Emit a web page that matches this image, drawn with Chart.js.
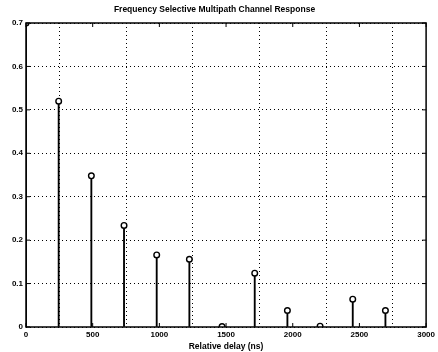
<!DOCTYPE html>
<html><head><meta charset="utf-8">
<script src="https://cdn.jsdelivr.net/npm/chart.js@4/dist/chart.umd.min.js"></script>
<style>html,body{margin:0;padding:0;background:#fff}#wrap{width:438px;height:352px}</style>
</head><body><div id="wrap"><canvas id="c" width="438" height="352"></canvas></div>
<script>
const delays = [0, 245, 490, 735, 980, 1225, 1470, 1715, 1960, 2205, 2450, 2695];
const gains = [0.7, 0.52, 0.348, 0.234, 0.166, 0.156, 0.001, 0.124, 0.038, 0.002, 0.064, 0.038];
const xTicks = [0, 500, 1000, 1500, 2000, 2500, 3000];
const yTicks = [0, 0.1, 0.2, 0.3, 0.4, 0.5, 0.6, 0.7];
const titleText = 'Frequency Selective Multipath Channel Response';
const xLabel = 'Relative delay (ns)';

const pts = delays.map((d, i) => ({x: d, y: gains[i]}));
const FONT = 'Liberation Sans';

const frame = {
  id: 'frame',
  afterDraw(chart) {
    const {ctx, chartArea: a, scales: {x, y}} = chart;
    ctx.save();
    ctx.strokeStyle = '#000';
    ctx.lineWidth = 1.5;
    ctx.strokeRect(a.left, a.top, a.right - a.left, a.bottom - a.top);
    ctx.lineWidth = 1;
    ctx.beginPath();
    xTicks.forEach(t => {
      const px = x.getPixelForValue(t);
      ctx.moveTo(px, a.bottom); ctx.lineTo(px, a.bottom - 4);
      ctx.moveTo(px, a.top); ctx.lineTo(px, a.top + 4);
    });
    yTicks.forEach(t => {
      const py = y.getPixelForValue(t);
      ctx.moveTo(a.left, py); ctx.lineTo(a.left + 4, py);
      ctx.moveTo(a.right, py); ctx.lineTo(a.right - 4, py);
    });
    ctx.stroke();
    ctx.restore();
  }
};

new Chart(document.getElementById('c'), {
  data: {
    datasets: [
      {type: 'scatter', data: pts, pointRadius: 2.8, pointBorderWidth: 1.4,
       pointBorderColor: '#000', pointBackgroundColor: '#fff', order: 0},
      {type: 'bar', data: pts, backgroundColor: '#000', barThickness: 1.2, order: 1}
    ]
  },
  options: {
    responsive: false, animation: false,
    layout: {padding: {left: 0, right: 9, top: 0, bottom: 0}},
    plugins: {
      legend: {display: false}, tooltip: {enabled: false},
      title: {display: true, text: titleText, color: '#000',
        font: {family: FONT, size: 8.5, weight: 'bold'}, padding: {top: 5, bottom: 7.8}}
    },
    scales: {
      x: {type: 'linear', min: 0, max: 3000, offset: false,
        afterBuildTicks: s => { s.ticks = xTicks.map(v => ({value: v})); },
        afterFit: s => { s.height = 25; },
        grid: {color: '#000', lineWidth: 1, drawTicks: false},
        border: {display: false, dash: [1, 3]},
        ticks: {color: '#000', padding: 3, maxRotation: 0, font: {family: FONT, size: 8, weight: 'bold'},
          callback: v => String(v)},
        title: {display: true, text: xLabel, color: '#000', padding: {top: 0, bottom: 0},
          font: {family: FONT, size: 8.5, weight: 'bold'}}
      },
      y: {type: 'linear', min: 0, max: 0.7,
        afterBuildTicks: s => { s.ticks = yTicks.map(v => ({value: v})); },
        afterFit: s => { s.width = 26; },
        grid: {color: '#000', lineWidth: 1, drawTicks: false},
        border: {display: false, dash: [1, 3]},
        ticks: {color: '#000', padding: 3, font: {family: FONT, size: 8, weight: 'bold'},
          callback: v => String(Math.round(v * 10) / 10)}
      }
    }
  },
  plugins: [frame]
});
</script></body></html>
